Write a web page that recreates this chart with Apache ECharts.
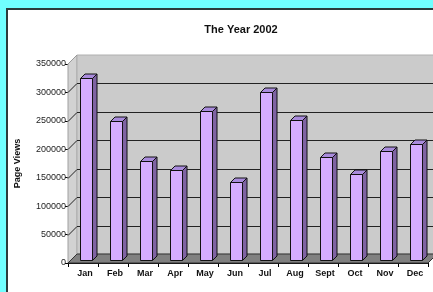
<!DOCTYPE html>
<html>
<head>
<meta charset="utf-8">
<script src="https://cdn.jsdelivr.net/npm/echarts@6/dist/echarts.min.js"></script>
<style>
html,body{margin:0;padding:0;background:#70ffff;}
#chart{width:433px;height:292px;}
</style>
</head>
<body>
<div id="chart"></div>
<script>
var months = ['Jan','Feb','Mar','Apr','May','Jun','Jul','Aug','Sept','Oct','Nov','Dec'];
var pageViews = [320000,244000,174000,158000,261000,136000,295000,245000,180000,150000,191000,204000];
var yTicks = [0,50000,100000,150000,200000,250000,300000,350000];

var depth = 9;      // 3d offset of back wall
var barOff = 3.5;   // bar front plane
var barDepth = 4.5;
var barWidth = 12;
var font = 'Liberation Sans, Arial, sans-serif';

var myChart = echarts.init(document.getElementById('chart'));

// walls, floor and back gridlines
function renderWalls(params, api) {
	var cs = params.coordSys;
	var x0 = cs.x, x1 = cs.x + cs.width;
	var yb = api.coord([0, yTicks[0]])[1];
	var yt = api.coord([0, yTicks[yTicks.length - 1]])[1];
	var D = depth;
	var children = [
		{type:'polygon', shape:{points:[[x0,yt],[x0+D,yt-D],[x0+D,yb-D],[x0,yb]]},
			style:{fill:'#d2d2d2', stroke:'#a0a0a0', lineWidth:1}},
		{type:'rect', shape:{x:x0+D, y:yt-D, width:cs.width+10, height:yb-yt},
			style:{fill:'#cbcbcb', stroke:'#b0b0b0', lineWidth:1}},
		{type:'polygon', shape:{points:[[x0,yb],[x0+D,yb-D],[x1+D,yb-D],[x1,yb]]},
			style:{fill:'#808080', stroke:'#333', lineWidth:1}}
	];
	for (var i = 1; i < yTicks.length - 1; i++) {
		var y = Math.round(api.coord([0, yTicks[i]])[1]) + 0.5;
		children.push({type:'line', shape:{x1:x0+D, y1:y-D, x2:x1+D+10, y2:y-D}, style:{stroke:'#222', lineWidth:1}});
		children.push({type:'line', shape:{x1:x0, y1:y, x2:x0+D, y2:y-D}, style:{stroke:'#222', lineWidth:1}});
	}
	children.push({type:'line', shape:{x1:x0, y1:yt, x2:x0+D, y2:yt-D}, style:{stroke:'#999', lineWidth:1}});
	return {type:'group', children:children};
}

// 3d looking bars
function renderBar(params, api) {
	var top = api.coord([api.value(0), api.value(1)]);
	var base = api.coord([api.value(0), 0]);
	var fx = Math.round(top[0] + barOff - barWidth / 2) - 0.5;
	var ty = Math.round(top[1] - barOff) + 0.5;
	var by = Math.round(base[1] - barOff) + 0.5;
	var d = barDepth;
	var w = barWidth;
	return {type:'group', children:[
		{type:'polygon', shape:{points:[[fx+w,ty],[fx+w+d,ty-d],[fx+w+d,by-d],[fx+w,by]]},
			style:{fill:'#7f63a3', stroke:'#111', lineWidth:1}},
		{type:'polygon', shape:{points:[[fx,ty],[fx+d,ty-d],[fx+w+d,ty-d],[fx+w,ty]]},
			style:{fill:'#a98bdc', stroke:'#111', lineWidth:1}},
		{type:'rect', shape:{x:fx, y:ty, width:w, height:by-ty},
			style:{fill:'#d5adff', stroke:'#111', lineWidth:1}}
	]};
}

var option = {
	animation:false,
	backgroundColor:'#70ffff',
	graphic:[{
		type:'rect', z:-10, silent:true,
		shape:{x:7, y:9, width:440, height:300},
		style:{fill:'#fff', stroke:'#2b3b3b', lineWidth:2}
	}],
	title:{
		text:'The Year 2002',
		left:241, top:24, padding:0,
		textAlign:'center',
		textStyle:{fontFamily:font, fontSize:11, fontWeight:'bold', color:'#111'}
	},
	grid:{left:68, top:64, width:360, height:199},
	xAxis:{
		type:'category',
		data:months,
		axisLine:{lineStyle:{color:'#000', width:1}},
		axisTick:{show:true, length:4, interval:0, lineStyle:{color:'#000'}},
		axisLabel:{interval:0, margin:6, padding:[0,0,0,4], fontFamily:font, fontSize:9, fontWeight:'bold', color:'#111'},
		splitLine:{show:false}
	},
	yAxis:{
		type:'value',
		min:yTicks[0], max:yTicks[yTicks.length-1], interval:50000,
		name:'Page Views',
		nameLocation:'middle',
		nameGap:46,
		nameTextStyle:{fontFamily:font, fontSize:9, fontWeight:'bold', color:'#111'},
		axisLine:{show:true, lineStyle:{color:'#000', width:1}},
		axisTick:{show:true, length:3, lineStyle:{color:'#000'}},
		axisLabel:{margin:2, fontFamily:font, fontSize:9, color:'#222',
			formatter:function(v){ return String(v); }},
		splitLine:{show:false}
	},
	series:[{
		type:'custom',
		z:1,
		clip:false,
		silent:true,
		renderItem:renderWalls,
		data:[[0,0]]
	},{
		type:'custom',
		z:3,
		clip:false,
		renderItem:renderBar,
		encode:{x:0, y:1},
		data:pageViews.map(function(v, i){ return [i, v]; })
	}]
};

myChart.setOption(option);
</script>
</body>
</html>
